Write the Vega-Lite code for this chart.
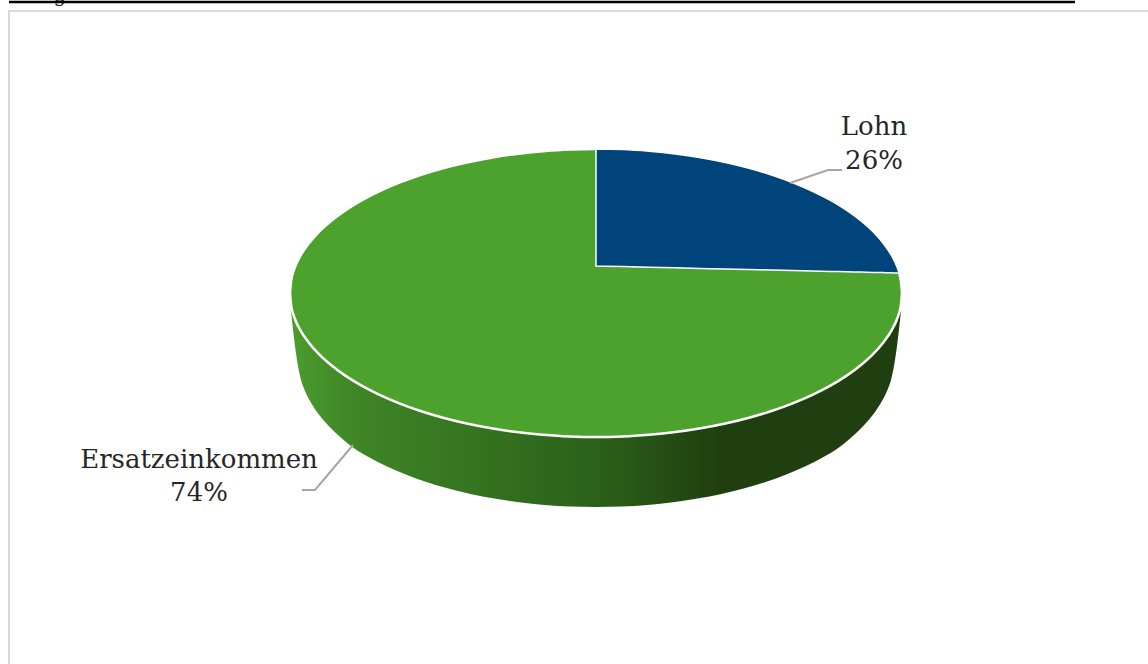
{
  "$schema": "https://vega.github.io/schema/vega-lite/v6.json",
  "autosize": "none",
  "width": 1148,
  "height": 664,
  "padding": 0,
  "background": "#ffffff",
  "view": {"stroke": null},
  "datasets": {
    "topFace": [
      {"x": -306, "upper": 0, "lower": 0},
      {"x": -304.8, "upper": 12.6, "lower": -12.6},
      {"x": -301.4, "upper": 25, "lower": -25},
      {"x": -295.6, "upper": 37.3, "lower": -37.3},
      {"x": -287.5, "upper": 49.2, "lower": -49.2},
      {"x": -277.3, "upper": 60.9, "lower": -60.9},
      {"x": -265, "upper": 72, "lower": -72},
      {"x": -250.7, "upper": 82.6, "lower": -82.6},
      {"x": -234.4, "upper": 92.6, "lower": -92.6},
      {"x": -216.4, "upper": 101.8, "lower": -101.8},
      {"x": -196.7, "upper": 110.3, "lower": -110.3},
      {"x": -175.5, "upper": 118, "lower": -118},
      {"x": -153, "upper": 124.7, "lower": -124.7},
      {"x": -129.3, "upper": 130.5, "lower": -130.5},
      {"x": -104.7, "upper": 135.3, "lower": -135.3},
      {"x": -79.2, "upper": 139.1, "lower": -139.1},
      {"x": -53.1, "upper": 141.8, "lower": -141.8},
      {"x": -26.7, "upper": 143.5, "lower": -143.5},
      {"x": 0, "upper": 144, "lower": -144},
      {"x": 26.7, "upper": 143.5, "lower": -143.5},
      {"x": 53.1, "upper": 141.8, "lower": -141.8},
      {"x": 79.2, "upper": 139.1, "lower": -139.1},
      {"x": 104.7, "upper": 135.3, "lower": -135.3},
      {"x": 129.3, "upper": 130.5, "lower": -130.5},
      {"x": 153, "upper": 124.7, "lower": -124.7},
      {"x": 175.5, "upper": 118, "lower": -118},
      {"x": 196.7, "upper": 110.3, "lower": -110.3},
      {"x": 216.4, "upper": 101.8, "lower": -101.8},
      {"x": 234.4, "upper": 92.6, "lower": -92.6},
      {"x": 250.7, "upper": 82.6, "lower": -82.6},
      {"x": 265, "upper": 72, "lower": -72},
      {"x": 277.3, "upper": 60.9, "lower": -60.9},
      {"x": 287.5, "upper": 49.2, "lower": -49.2},
      {"x": 295.6, "upper": 37.3, "lower": -37.3},
      {"x": 301.4, "upper": 25, "lower": -25},
      {"x": 304.8, "upper": 12.6, "lower": -12.6},
      {"x": 306, "upper": 0, "lower": 0}
    ],
    "lohnSlice": [
      {"x": 0, "upper": 144, "lower": 27},
      {"x": 26.7, "upper": 143.5, "lower": 26.4},
      {"x": 53.1, "upper": 141.8, "lower": 25.8},
      {"x": 79.2, "upper": 139.1, "lower": 25.2},
      {"x": 104.7, "upper": 135.3, "lower": 24.6},
      {"x": 129.3, "upper": 130.5, "lower": 24},
      {"x": 153, "upper": 124.7, "lower": 23.5},
      {"x": 175.5, "upper": 118, "lower": 22.9},
      {"x": 196.7, "upper": 110.3, "lower": 22.5},
      {"x": 216.4, "upper": 101.8, "lower": 22},
      {"x": 234.4, "upper": 92.6, "lower": 21.6},
      {"x": 250.7, "upper": 82.6, "lower": 21.2},
      {"x": 265, "upper": 72, "lower": 20.9},
      {"x": 277.3, "upper": 60.9, "lower": 20.6},
      {"x": 287.5, "upper": 49.2, "lower": 20.4},
      {"x": 295.6, "upper": 37.3, "lower": 20.2},
      {"x": 301.4, "upper": 25, "lower": 20},
      {"x": 303, "upper": 20, "lower": 20}
    ],
    "sideWall": [
      {"x": -305, "upper": 0, "lower": -18},
      {"x": -302, "upper": 0, "lower": -45},
      {"x": -299, "upper": 0, "lower": -67},
      {"x": -295.5, "upper": 0, "lower": -85},
      {"x": -291, "upper": 0, "lower": -98},
      {"x": -286, "upper": 0, "lower": -108},
      {"x": -279, "upper": 0, "lower": -119},
      {"x": -270, "upper": 0, "lower": -130},
      {"x": -258, "upper": 0, "lower": -142},
      {"x": -243.3, "upper": 0, "lower": -154.3},
      {"x": -227.5, "upper": 0, "lower": -164},
      {"x": -210, "upper": 0, "lower": -173},
      {"x": -190.9, "upper": 0, "lower": -181.2},
      {"x": -170.4, "upper": 0, "lower": -188.7},
      {"x": -148.5, "upper": 0, "lower": -195.2},
      {"x": -125.5, "upper": 0, "lower": -200.9},
      {"x": -101.6, "upper": 0, "lower": -205.6},
      {"x": -76.9, "upper": 0, "lower": -209.2},
      {"x": -51.6, "upper": 0, "lower": -211.9},
      {"x": -25.9, "upper": 0, "lower": -213.5},
      {"x": 0, "upper": 0, "lower": -214},
      {"x": 25.9, "upper": 0, "lower": -213.5},
      {"x": 51.6, "upper": 0, "lower": -211.9},
      {"x": 76.9, "upper": 0, "lower": -209.2},
      {"x": 101.6, "upper": 0, "lower": -205.6},
      {"x": 125.5, "upper": 0, "lower": -200.9},
      {"x": 148.5, "upper": 0, "lower": -195.2},
      {"x": 170.4, "upper": 0, "lower": -188.7},
      {"x": 190.9, "upper": 0, "lower": -181.2},
      {"x": 210, "upper": 0, "lower": -173},
      {"x": 227.5, "upper": 0, "lower": -164},
      {"x": 243.3, "upper": 0, "lower": -154.3},
      {"x": 258, "upper": 0, "lower": -142},
      {"x": 270, "upper": 0, "lower": -130},
      {"x": 279, "upper": 0, "lower": -119},
      {"x": 286, "upper": 0, "lower": -108},
      {"x": 291, "upper": 0, "lower": -98},
      {"x": 295.5, "upper": 0, "lower": -85},
      {"x": 299, "upper": 0, "lower": -67},
      {"x": 302, "upper": 0, "lower": -45},
      {"x": 305, "upper": 0, "lower": -18}
    ],
    "leaders": [
      {"slice": "Lohn", "step": 1, "x": 194, "y": 110},
      {"slice": "Lohn", "step": 2, "x": 232, "y": 123},
      {"slice": "Lohn", "step": 3, "x": 246, "y": 123},
      {"slice": "Ersatzeinkommen", "step": 1, "x": -243, "y": -152},
      {"slice": "Ersatzeinkommen", "step": 2, "x": -281, "y": -197},
      {"slice": "Ersatzeinkommen", "step": 3, "x": -294, "y": -197}
    ],
    "labels": [
      {"text": "Lohn", "x": 278, "y": 166},
      {"text": "26%", "x": 278, "y": 132},
      {"text": "Ersatzeinkommen", "x": -397, "y": -167},
      {"text": "74%", "x": -397, "y": -200}
    ],
    "frame": [
      {"step": 1, "x": -587, "y": -371},
      {"step": 2, "x": -587, "y": 282},
      {"step": 3, "x": 552, "y": 282}
    ],
    "headingRule": [
      {"x": -587, "y": 291},
      {"x": 479, "y": 291}
    ],
    "headingTails": [
      {"text": "g", "x": -536, "y": 291},
      {"text": "p", "x": 474, "y": 297}
    ]
  },
  "encoding": {
    "x": {"field": "x", "type": "quantitative", "axis": null, "scale": {"domain": [-596, 552], "nice": false, "zero": false}},
    "y": {"type": "quantitative", "axis": null, "scale": {"domain": [-371, 293], "nice": false, "zero": false}}
  },
  "layer": [
    {
      "data": {"name": "frame"},
      "mark": {"type": "line", "stroke": "#d9d9d9", "strokeWidth": 2},
      "encoding": {"y": {"field": "y"}, "order": {"field": "step"}}
    },
    {
      "data": {"name": "headingTails"},
      "mark": {"type": "text", "font": "DejaVu Serif", "fontSize": 20, "color": "#222222", "align": "center", "baseline": "alphabetic"},
      "encoding": {"y": {"field": "y"}, "text": {"field": "text"}}
    },
    {
      "data": {"name": "headingRule"},
      "mark": {"type": "line", "stroke": "#000000", "strokeWidth": 2.4},
      "encoding": {"y": {"field": "y"}}
    },
    {
      "data": {"name": "sideWall"},
      "mark": {
        "type": "area",
        "interpolate": "monotone",
        "fill": {
          "gradient": "linear", "x1": 0, "y1": 0, "x2": 1, "y2": 0,
          "stops": [
            {"offset": 0, "color": "#4b9c2d"},
            {"offset": 0.1, "color": "#3f8627"},
            {"offset": 0.5, "color": "#2b6119"},
            {"offset": 0.7, "color": "#203f10"},
            {"offset": 1, "color": "#203f10"}
          ]
        }
      },
      "encoding": {"y": {"field": "upper"}, "y2": {"field": "lower"}}
    },
    {
      "data": {"name": "topFace"},
      "mark": {"type": "area", "interpolate": "monotone", "fill": "#4da22e", "stroke": "#ffffff", "strokeWidth": 2.5},
      "encoding": {"y": {"field": "upper"}, "y2": {"field": "lower"}}
    },
    {
      "data": {"name": "lohnSlice"},
      "mark": {"type": "area", "interpolate": "monotone", "fill": "#00447c", "stroke": "#ffffff", "strokeWidth": 1.5},
      "encoding": {"y": {"field": "upper"}, "y2": {"field": "lower"}}
    },
    {
      "data": {"name": "leaders"},
      "mark": {"type": "line", "stroke": "#a6a6a6", "strokeWidth": 2},
      "encoding": {"y": {"field": "y"}, "detail": {"field": "slice"}, "order": {"field": "step"}}
    },
    {
      "data": {"name": "labels"},
      "mark": {"type": "text", "font": "DejaVu Serif", "fontSize": 26, "color": "#262626", "align": "center", "baseline": "middle"},
      "encoding": {"y": {"field": "y"}, "text": {"field": "text"}}
    }
  ]
}
